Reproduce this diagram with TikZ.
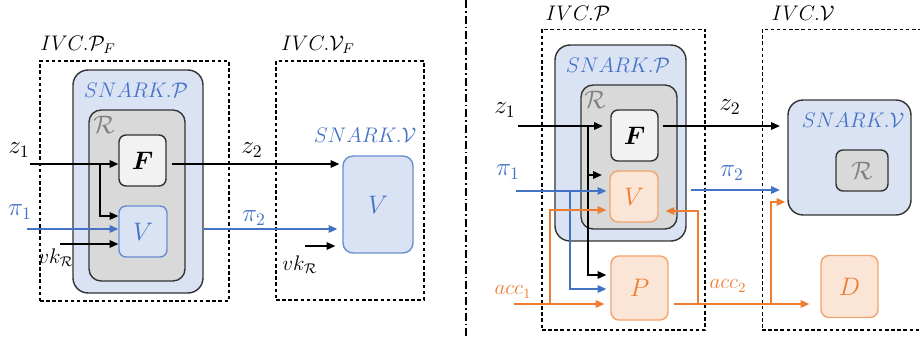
\documentclass[tikz,border=0pt]{standalone}
\usepackage{amsmath,bm}
\usetikzlibrary{calc,positioning,arrows.meta}
\definecolor{snblue}{RGB}{218,227,243}
\definecolor{inkblue}{RGB}{68,114,196}
\definecolor{relgray}{RGB}{217,217,217}
\definecolor{fungray}{RGB}{242,242,242}
\definecolor{accorange}{RGB}{237,125,49}
\definecolor{accfill}{RGB}{251,229,214}

\begin{document}
\begin{tikzpicture}[x=0.02cm,y=-0.02cm,
  every node/.style={font=\large},
  big/.style={font=\Large},
  snlbl/.style={text=inkblue,font=\fontsize{11.5}{14}\selectfont},
  frame/.style={draw,line width=0.6pt,dash pattern=on 2pt off 1.5pt,inner sep=0pt},
  snark/.style={draw=black!80,line width=0.8pt,fill=snblue,rounded corners=0.3cm,inner sep=0pt},
  rel/.style={draw=black!80,line width=0.8pt,fill=relgray,rounded corners=0.24cm,inner sep=0pt},
  fun/.style={draw=black!80,line width=0.8pt,fill=fungray,rounded corners=0.14cm,
    minimum width=0.94cm,minimum height=1.02cm,inner sep=0pt,font=\fontsize{15}{18}\selectfont},
  ver/.style={draw=inkblue!80,line width=0.8pt,fill=snblue,rounded corners=0.14cm,
    inner sep=0pt,text=inkblue,font=\fontsize{15}{18}\selectfont},
  accbox/.style={draw=accorange!70,line width=0.8pt,fill=accfill,rounded corners=0.16cm,
    inner sep=0pt,text=accorange,font=\fontsize{15.5}{18}\selectfont},
  arr/.style={-{Triangle[length=5pt,width=4.4pt]},line width=0.6pt},
  barr/.style={arr,draw=inkblue},
  oarr/.style={arr,draw=accorange},
  gap/.style={shorten >=1.5mm}]
  \useasboundingbox (0,0) rectangle (920,338);

  \node[frame,minimum width=3.78cm,minimum height=4.8cm] (pF) at (134.5,181) {};
  \node[frame,minimum width=2.96cm,minimum height=4.78cm] (vF) at (350,180.5) {};
  \node (pFtitle) at (78,45) {$IVC.\mathcal{P}_F$};
  \node (vFtitle) at (318,45) {$IVC.\mathcal{V}_F$};
  \node[snark,minimum width=2.6cm,minimum height=4.46cm] (snP) at (138,181.5) {};
  \node[snlbl] (snPlbl) at (136,90) {$SNARK.\mathcal{P}$};
  \node[rel,minimum width=1.92cm,minimum height=3.42cm] (relL) at (137,195.5) {};
  \node[big,text=black!50] (relLlbl) at (104,125) {$\mathcal{R}$};
  \node[fun] (F) at (142.5,160.5) {$\bm{F}$};
  \node[ver,minimum width=0.96cm,minimum height=1.02cm] (V) at (143,231.5) {$V$};
  \node[snlbl] (snVlbl) at (365,135) {$SNARK.\mathcal{V}$};
  \node[ver,minimum width=1.4cm,minimum height=1.94cm,rounded corners=0.2cm] (Vbig) at (378,204.5) {$V$};

  \coordinate (z1in) at (30,164); \coordinate (z1br) at (100,164);
  \coordinate (pi1in) at (27,229); \coordinate (vkin) at (60,244); \coordinate (vkin2) at (305,246);
  \node[big] (z1) at (19,150) {$z_1$};
  \node[big,text=inkblue] (pi1) at (20,212) {$\pi_1$};
  \node (vk) at (56,258) {$vk_{\mathcal{R}}$};
  \node[big] (z2) at (252,150) {$z_2$};
  \node[big,text=inkblue] (pi2) at (254,218) {$\pi_2$};
  \node (vk2) at (300,265) {$vk_{\mathcal{R}}$};
  \draw[arr] (z1in) -- (z1in -| F.west);
  \draw[arr] (z1br) |- ([yshift=0.31cm]V.west);
  \draw[barr] (pi1in) -- (pi1in -| V.west);
  \draw[arr] (vkin) -- (vkin -| V.west);
  \draw[arr,shorten <=1mm,shorten >=0.6mm] (F.east |- z1in) -- (z1in -| Vbig.west);
  \draw[barr,shorten >=1mm] (snP.east |- pi1in) -- (pi1in -| Vbig.west);
  \draw[arr,shorten >=1.4mm] (vkin2) -- (vkin2 -| Vbig.west);

  \coordinate (sepTop) at (466,0); \coordinate (sepBot) at (466,338);
  \draw[line width=1.1pt,dash pattern=on 4.5pt off 1.7pt on 1pt off 1.7pt] (sepTop) -- (sepBot);

  \node[frame,minimum width=3.26cm,minimum height=6.02cm] (pR) at (623.5,179.5) {};
  \node[frame,minimum width=4cm,minimum height=6.02cm] (vR) at (862,179.5) {};
  \node (pRtitle) at (578,13) {$IVC.\mathcal{P}$};
  \node (vRtitle) at (803,13) {$IVC.\mathcal{V}$};
  \node[snark,minimum width=2.62cm,minimum height=3.92cm] (snP2) at (620.5,143) {};
  \node[snlbl] (snP2lbl) at (618,65) {$SNARK.\mathcal{P}$};
  \node[rel,minimum width=1.92cm,minimum height=2.88cm] (relR) at (629,157) {};
  \node[big,text=black!50] (relRlbl) at (595,100) {$\mathcal{R}$};
  \node[fun] (F2) at (634.5,135.5) {$\bm{F}$};
  \node[accbox,minimum width=0.96cm,minimum height=1.02cm] (V2) at (634,196.5) {$V$};
  \node[accbox,minimum width=1.14cm,minimum height=1.28cm] (P2) at (639.5,288) {$P$};
  \node[snark,minimum width=2.46cm,minimum height=2.3cm] (snV) at (849.5,157.5) {};
  \node[snlbl] (snVlbl2) at (853,120) {$SNARK.\mathcal{V}$};
  \node[rel,big,minimum width=1.04cm,minimum height=0.82cm,rounded corners=0.14cm,text=black!50] (relV) at (862,170.5) {$\mathcal{R}$};
  \node[accbox,minimum width=1.14cm,minimum height=1.24cm] (D) at (849.5,286.5) {$D$};

  \coordinate (z1in2) at (518,126); \coordinate (z1br2) at (588,126);
  \coordinate (pi1in2) at (516,191); \coordinate (pi1br2) at (570,191);
  \coordinate (accin) at (514,304); \coordinate (accbr) at (550,304);
  \coordinate (accout) at (674,304); \coordinate (accbr2) at (698,304); \coordinate (accbr3) at (771,304);
  \coordinate (pi2in) at (691,190);
  \node[big] (z12) at (505,110) {$z_1$};
  \node[big,text=inkblue] (pi12) at (508,172) {$\pi_1$};
  \node[text=accorange] (acc1) at (513,292) {$acc_1$};
  \node[big] (z22) at (730,107) {$z_2$};
  \node[big,text=inkblue] (pi22) at (732,173) {$\pi_2$};
  \node[text=accorange] (acc2) at (728,286) {$acc_2$};
  \draw[arr,gap] (z1in2) -- (z1in2 -| F2.west);
  \draw[arr,gap] (z1br2) |- ([yshift=0.43cm]V2.west);
  \draw[arr,shorten >=0.8mm] (z1br2) |- ([yshift=0.26cm]P2.west);
  \draw[barr,shorten >=0.6mm] (pi1in2) -- (pi1in2 -| V2.west);
  \draw[barr,shorten >=0.8mm] (pi1br2) |- ([yshift=-0.02cm]P2.west);
  \draw[oarr,shorten >=1.2mm] (accin) -- (accin -| P2.west);
  \draw[oarr,shorten >=0.6mm] (accbr) |- ([yshift=-0.27cm]V2.west);
  \draw[oarr,shorten >=2.2mm] (accout) -- (accout -| D.west);
  \draw[oarr,shorten >=1.4mm] (accbr2) |- ([yshift=-0.29cm]V2.east);
  \draw[oarr,shorten >=0.4mm] (accbr3) |- ([yshift=-0.89cm]snV.west);
  \draw[arr,shorten <=0.8mm,gap] (F2.east |- z1in2) -- (z1in2 -| snV.west);
  \draw[barr,gap] (pi2in) -- (pi2in -| snV.west);
\end{tikzpicture}
\end{document}
